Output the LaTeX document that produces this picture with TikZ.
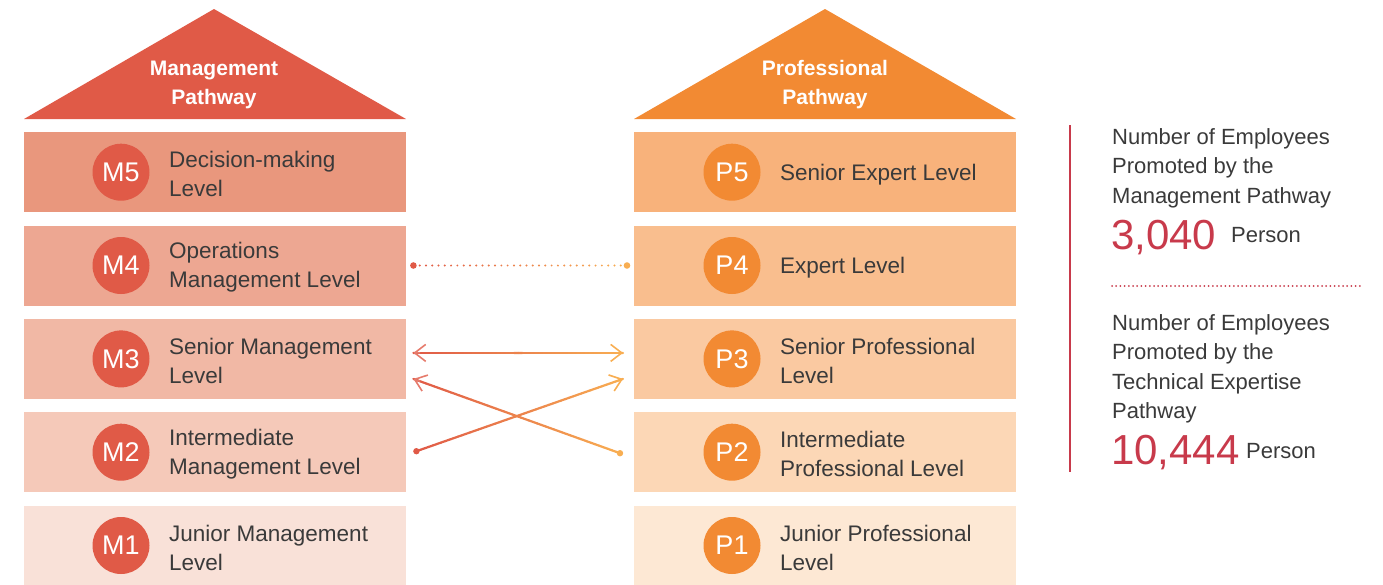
\documentclass[tikz,border=0pt]{standalone}
\usepackage{fontspec}
\setmainfont{Liberation Sans}
\usetikzlibrary{arrows.meta,calc}
\definecolor{mred}{HTML}{E05A47}
\definecolor{morange}{HTML}{F28A33}
\definecolor{lorange}{HTML}{F8AE52}
\definecolor{m5c}{HTML}{E9977D}
\definecolor{m4c}{HTML}{EDA792}
\definecolor{m3c}{HTML}{F1B8A5}
\definecolor{m2c}{HTML}{F5C9B9}
\definecolor{m1c}{HTML}{F9E1D8}
\definecolor{p5c}{HTML}{F8B27B}
\definecolor{p4c}{HTML}{F9BE8E}
\definecolor{p3c}{HTML}{FAC9A1}
\definecolor{p2c}{HTML}{FCD7B6}
\definecolor{p1c}{HTML}{FDE8D4}
\definecolor{txt}{HTML}{3A3A3A}
\definecolor{numc}{HTML}{C83A4B}
\newcommand{\gradline}[2]{%
  \foreach \k in {0,...,49}{%
    \pgfmathsetmacro\ta{\k/50}%
    \pgfmathsetmacro\tb{(\k+1)/50}%
    \pgfmathsetmacro\pc{100-2*\k}%
    \draw[line width=2.2pt, line cap=round, draw=mred!\pc!lorange] ($(#1)!\ta!(#2)$) -- ($(#1)!\tb!(#2)$);
  }%
}
\tikzset{
  levelbox/.style={minimum width=382pt, minimum height=80pt, inner sep=0pt, draw=none, anchor=north west},
  badge/.style={circle, minimum size=57pt, inner sep=0pt, text=white, font=\fontsize{27}{27}\selectfont},
  lvltext/.style={anchor=west, align=left, text=txt, font=\fontsize{22.5}{29}\selectfont, inner sep=0pt},
  roof/.style={text=white, align=center, font=\bfseries\fontsize{21}{29}\selectfont, inner sep=0pt},
  paneltext/.style={anchor=west, align=left, text=txt, font=\fontsize{22}{29.5}\selectfont, inner sep=0pt},
  numtext/.style={anchor=base west, text=numc, font=\fontsize{42}{42}\selectfont, inner sep=0pt},
  unittext/.style={anchor=base west, text=txt, font=\fontsize{22}{22}\selectfont, inner sep=0pt},
  barb/.style={line width=1.6pt, line cap=round},
}
\begin{document}
\begin{tikzpicture}[x=1pt, y=-1pt]
\useasboundingbox (0,0) rectangle (1383,584);
% roofs
\fill[mred] (24,119) -- (214,9) -- (406,119) -- cycle;
\node[roof] (mroof) at (214,85) {Management\\Pathway};
\fill[morange] (634,119) -- (825,9) -- (1016,119) -- cycle;
\node[roof] (proof) at (825,85) {Professional\\Pathway};
% management boxes
\node[levelbox, fill=m5c] (m5) at (24,132) {};
\node[levelbox, fill=m4c] (m4) at (24,225.3) {};
\node[levelbox, fill=m3c] (m3) at (24,318.7) {};
\node[levelbox, fill=m2c] (m2) at (24,412) {};
\node[levelbox, fill=m1c] (m1) at (24,505.3) {};
% professional boxes
\node[levelbox, fill=p5c] (p5) at (634,132) {};
\node[levelbox, fill=p4c] (p4) at (634,225.3) {};
\node[levelbox, fill=p3c] (p3) at (634,318.7) {};
\node[levelbox, fill=p2c] (p2) at (634,412) {};
\node[levelbox, fill=p1c] (p1) at (634,505.3) {};
% badges and texts
\node[badge, fill=mred] (cm5) at ($(m5.west)+(97,0)$) {M5};
\node[badge, fill=mred] (cm4) at ($(m4.west)+(97,0)$) {M4};
\node[badge, fill=mred] (cm3) at ($(m3.west)+(97,0)$) {M3};
\node[badge, fill=mred] (cm2) at ($(m2.west)+(97,0)$) {M2};
\node[badge, fill=mred] (cm1) at ($(m1.west)+(97,0)$) {M1};
\node[lvltext] (tm5) at ($(m5.west)+(145,2)$) {Decision-making\\Level};
\node[lvltext] (tm4) at ($(m4.west)+(145,2)$) {Operations\\Management Level};
\node[lvltext] (tm3) at ($(m3.west)+(145,2)$) {Senior Management\\Level};
\node[lvltext] (tm2) at ($(m2.west)+(145,2)$) {Intermediate\\Management Level};
\node[lvltext] (tm1) at ($(m1.west)+(145,2)$) {Junior Management\\Level};
\node[badge, fill=morange] (cp5) at ($(p5.west)+(98,0)$) {P5};
\node[badge, fill=morange] (cp4) at ($(p4.west)+(98,0)$) {P4};
\node[badge, fill=morange] (cp3) at ($(p3.west)+(98,0)$) {P3};
\node[badge, fill=morange] (cp2) at ($(p2.west)+(98,0)$) {P2};
\node[badge, fill=morange] (cp1) at ($(p1.west)+(98,0)$) {P1};
\node[lvltext] (tp5) at ($(p5.west)+(146,2)$) {Senior Expert Level};
\node[lvltext] (tp4) at ($(p4.west)+(146,2)$) {Expert Level};
\node[lvltext] (tp3) at ($(p3.west)+(146,2)$) {Senior Professional\\Level};
\node[lvltext] (tp2) at ($(p2.west)+(146,2)$) {Intermediate\\Professional Level};
\node[lvltext] (tp1) at ($(p1.west)+(146,2)$) {Junior Professional\\Level};
% connector end points
\coordinate (d4a) at ($(m4.east)+(7,0)$);
\coordinate (d4b) at ($(p4.west)+(-7,0)$);
\coordinate (a3a) at ($(m3.east)+(7,-6)$);
\coordinate (a3b) at ($(p3.west)+(-11,-6)$);
\coordinate (x3a) at ($(m3.east)+(7,20)$);
\coordinate (x3b) at ($(p3.west)+(-11,20)$);
\coordinate (x2a) at ($(m2.east)+(10,-1)$);
\coordinate (x2b) at ($(p2.west)+(-14,1)$);
% dotted M4 -- P4
\foreach \i in {0,...,34}{%
  \pgfmathsetmacro\pc{100-100*\i/34}%
  \fill[mred!\pc!lorange] ($(d4a)!\i/34!(d4b)$) circle[radius=1.1];
}
\fill[mred] (d4a) circle[radius=3.3];
\fill[lorange] (d4b) circle[radius=3.3];
% M3 <-> P3
\gradline{a3a}{a3b}
\draw[barb, draw=mred!80!white, {Straight Barb[length=11pt,width=17pt]}-] (a3a) -- ($(a3a)!0.03!(a3b)$);
\draw[barb, draw=lorange, -{Straight Barb[length=11pt,width=17pt]}] ($(a3a)!0.97!(a3b)$) -- (a3b);
% M2 -> P3
\gradline{x2a}{x3b}
\fill[mred] (x2a) circle[radius=3.2];
\draw[barb, draw=lorange, -{Straight Barb[length=11pt,width=17pt]}] ($(x2a)!0.97!(x3b)$) -- (x3b);
% P2 -> M3
\gradline{x3a}{x2b}
\fill[lorange] (x2b) circle[radius=3.2];
\draw[barb, draw=mred!80!white, {Straight Barb[length=11pt,width=17pt]}-] (x3a) -- ($(x3a)!0.03!(x2b)$);
% right panel
\coordinate (vt) at (1070,125);
\coordinate (vb) at (1070,472);
\draw[numc, line width=1.6pt] (vt) -- (vb);
\node[paneltext] (t1) at (1112,168) {Number of Employees\\Promoted by the\\Management Pathway};
\node[numtext] (n1) at (1111,249) {3,040};
\node[unittext] (u1) at (1231,242) {Person};
\coordinate (sa) at (1112,286);
\coordinate (sb) at (1363,286);
\draw[numc, line width=2pt, line cap=round, dash pattern=on 0pt off 4.2pt] (sa) -- (sb);
\node[paneltext] (t2) at (1112,369) {Number of Employees\\Promoted by the\\Technical Expertise\\Pathway};
\node[numtext] (n2) at (1111,464) {10,444};
\node[unittext] (u2) at (1246,458) {Person};
\end{tikzpicture}
\end{document}
